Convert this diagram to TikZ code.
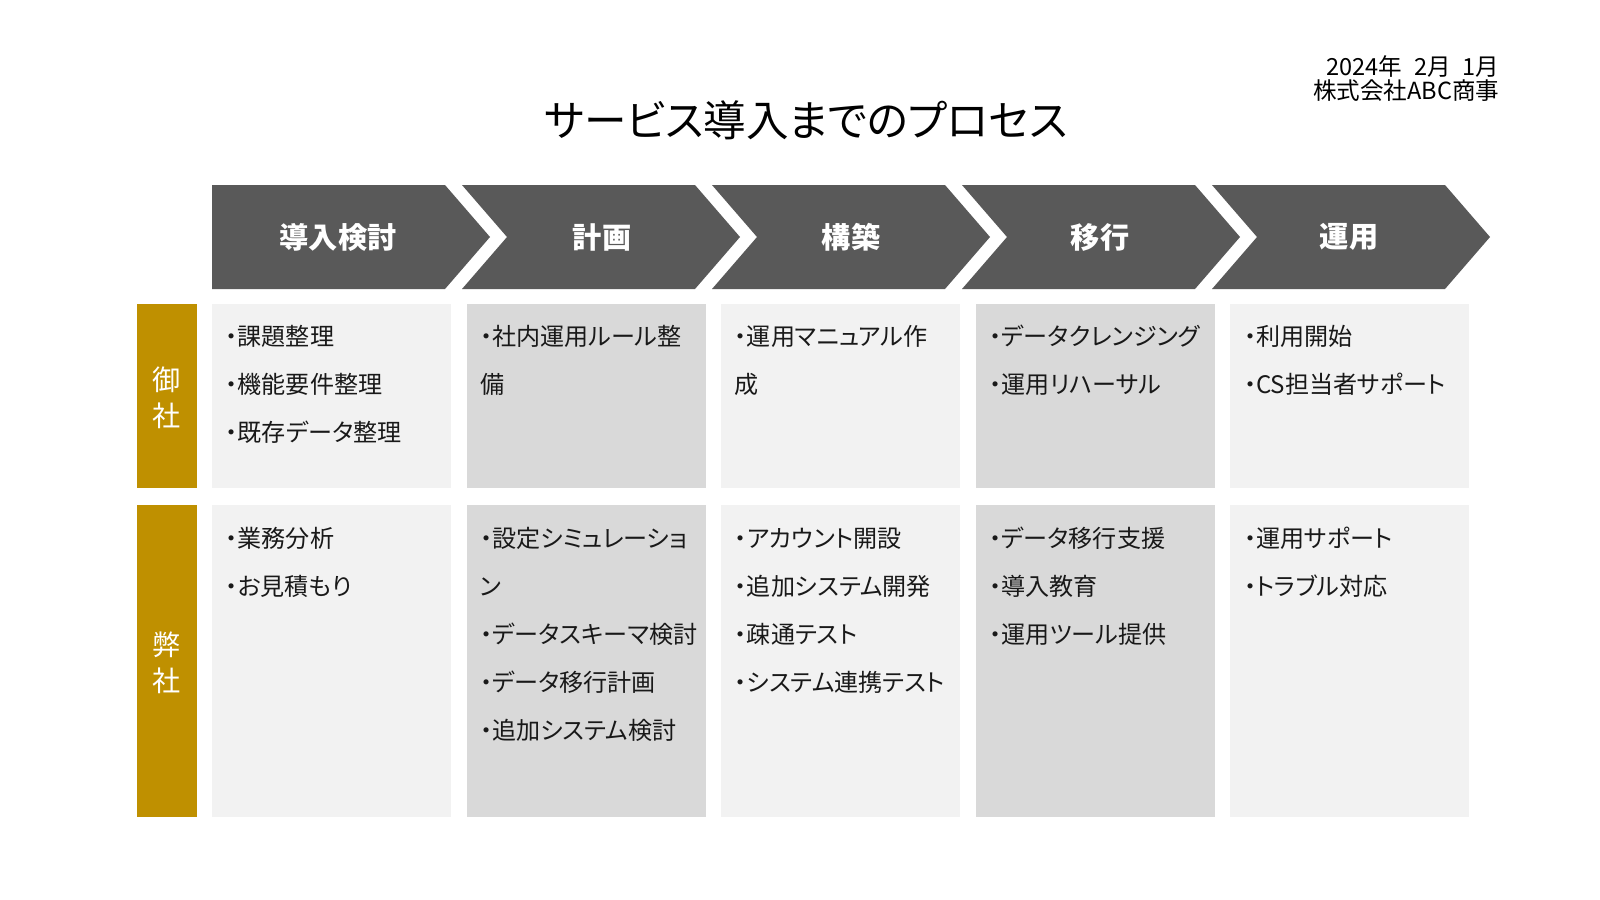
\documentclass[tikz,border=0pt]{standalone}
\usepackage{fontspec}
\setmainfont{Noto Sans CJK JP}[RawFeature=+palt]
\definecolor{yajiiro}{HTML}{595959}
\definecolor{usuiro}{HTML}{F2F2F2}
\definecolor{koiiro}{HTML}{D9D9D9}
\definecolor{kiniro}{HTML}{BF9000}
\tikzset{
  yaji/.style={fill=yajiiro},
  midasi/.style={text=white,inner sep=0pt,font=\fontsize{8.3}{10}\selectfont\bfseries},
  ran/.style={fill=kiniro},
  retsu/.style={text=white,inner sep=0pt,align=center,font=\fontsize{8}{10.2}\selectfont},
  koumoku/.style={anchor=base west,inner sep=0pt,text=black!90,font=\fontsize{6.85}{9}\selectfont},
  hiduke/.style={anchor=east,inner sep=0pt,font=\fontsize{6.7}{8}\selectfont},
}

\begin{document}
\begin{tikzpicture}[x=0.01cm,y=-0.01cm]
  \useasboundingbox[fill=white] (0,0) rectangle (1600,900);
  \node[inner sep=0pt,font=\fontsize{12.1}{15}\selectfont] (title) at (806,120) {サービス導入までのプロセス};
  \node[hiduke] (hi) at (1500,67) {2024年\hspace{0.5em}2月\hspace{0.5em}1月};
  \node[hiduke] (kaisha) at (1500,91) {株式会社ABC商事};
  \foreach \i/\n/\tx/\lab in {0/0/338/導入検討, 1/45/602/計画, 2/45/851/構築, 3/45/1100/移行, 4/45/1349/運用} {
    \pgfmathsetmacro\L{212+250*\i}
    \fill[yaji] (\L,185) -- ++(233,0) -- ++(45,52) -- ++(-45,52) -- (\L,289) -- (\L+\n,237) -- cycle;
    \node[midasi] (h\i) at (\tx,237) {\lab};
  }
  \foreach \c/\col in {0/usuiro, 1/koiiro, 2/usuiro, 3/koiiro, 4/usuiro} {
    \pgfmathsetmacro\L{212+254.6*\c}
    \fill[\col] (\L,304) rectangle ++(239,184);
    \fill[\col] (\L,505) rectangle ++(239,312);
  }
  \fill[ran] (137,304) rectangle (197,488);
  \fill[ran] (137,505) rectangle (197,817);
  \node[retsu] (onsha) at (167,398) {御\\社};
  \node[retsu] (heisha) at (167,663) {弊\\社};
  \foreach \c/\items in {0/{・課題整理,・機能要件整理,・既存データ整理}, 1/{・社内運用ルール整,備}, 2/{・運用マニュアル作,成}, 3/{・データクレンジング,・運用リハーサル}, 4/{・利用開始,・CS担当者サポート}} {
    \pgfmathsetmacro\X{225+254.6*\c}
    \foreach \t [count=\k from 0] in \items
      \node[koumoku] (a\c-\k) at (\X,345+48*\k) {\t};
  }
  \foreach \c/\items in {0/{・業務分析,・お見積もり}, 1/{・設定シミュレーショ,ン,・データスキーマ検討,・データ移行計画,・追加システム検討}, 2/{・アカウント開設,・追加システム開発,・疎通テスト,・システム連携テスト}, 3/{・データ移行支援,・導入教育,・運用ツール提供}, 4/{・運用サポート,・トラブル対応}} {
    \pgfmathsetmacro\X{225+254.6*\c}
    \foreach \t [count=\k from 0] in \items
      \node[koumoku] (b\c-\k) at (\X,547+48*\k) {\t};
  }
\end{tikzpicture}
\end{document}
